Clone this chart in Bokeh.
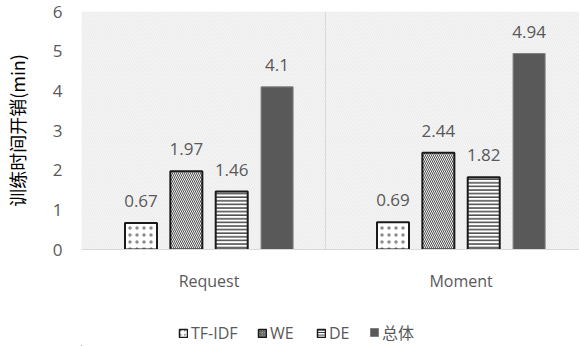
from bokeh.plotting import figure
from bokeh.layouts import column
from bokeh.models import (ColumnDataSource, Range1d, FixedTicker, BoxAnnotation, Span,
                          Legend, LegendItem, LabelSet)
from bokeh.core.properties import value
from bokeh.embed import file_html
from bokeh.resources import INLINE

# training time cost per scenario (minutes)
groups = ["Request", "Moment"]
series = ["TF-IDF", "WE", "DE", "总体"]
tfidf = [0.67, 0.69]
we = [1.97, 2.44]
de = [1.46, 1.82]
total = [4.1, 4.94]
y_ticks = [0, 1, 2, 3, 4, 5, 6]

values = [tfidf, we, de, total]
offsets = [-0.27, -0.09, 0.09, 0.27]
bar_w = 0.127

styles = [
    dict(fill_color="white", line_color="#1a1a1a", line_width=2,
         hatch_pattern="dot", hatch_color="#8c8c8c", hatch_scale=7, hatch_weight=1.2),
    dict(fill_color="#f0f0f0", line_color="#1a1a1a", line_width=2,
         hatch_pattern="left_diagonal_line", hatch_color="#505050", hatch_scale=4, hatch_weight=1),
    dict(fill_color="white", line_color="#1a1a1a", line_width=2,
         hatch_pattern="horizontal_line", hatch_color="#2a2a2a", hatch_scale=3.6, hatch_weight=1.3),
    dict(fill_color="#595959", line_color="#7f7f7f", line_width=1),
]

font = "'Open Sans', 'Noto Sans CJK SC'"
grey_text = "#595959"

p = figure(width=579, height=318, output_backend="svg", toolbar_location=None,
           x_range=Range1d(-0.506, 1.47), y_range=Range1d(0, 6),
           min_border_left=79, min_border_right=0, min_border_top=11, min_border_bottom=69)
p.outline_line_color = None
p.background_fill_color = "white"
p.border_fill_color = "white"

# light hatched plot area
p.add_layout(BoxAnnotation(fill_color="#f8f8f8", fill_alpha=1, line_color=None,
                           hatch_pattern="left_diagonal_line", hatch_color="#e3e3e3",
                           hatch_scale=4.5, hatch_weight=0.8, level="underlay"))

p.xgrid.grid_line_color = None
p.ygrid.grid_line_color = "#d9d9d9"
p.ygrid.grid_line_width = 1
p.ygrid.ticker = FixedTicker(ticks=y_ticks)

# category divider
p.add_layout(Span(location=0.5 - 0.038, dimension="height", line_color="#d9d9d9", line_width=1))

sources = []
for name, vals, off, st in zip(series, values, offsets, styles):
    src = ColumnDataSource(dict(x=[i + off for i in range(len(groups))], top=vals,
                                lab=[f"{v:g}" for v in vals]))
    sources.append(src)
    p.vbar(x="x", top="top", width=bar_w, source=src, **st)
    p.add_layout(LabelSet(x="x", y="top", text="lab", source=src, text_align="center",
                          text_baseline="bottom", y_offset=16, text_font=value("Open Sans"),
                          text_font_size="17px", text_color=grey_text))

p.yaxis.ticker = FixedTicker(ticks=y_ticks)
p.yaxis.axis_line_color = None
p.yaxis.major_tick_line_color = None
p.yaxis.minor_tick_line_color = None
p.yaxis.major_label_text_font = "Open Sans"
p.yaxis.major_label_text_font_size = "17px"
p.yaxis.major_label_text_color = grey_text
p.yaxis.major_label_standoff = 13
p.yaxis.axis_label = "训练时间开销(min)"
p.yaxis.axis_label_text_font = "Noto Sans CJK SC"
p.yaxis.axis_label_text_font_style = "normal"
p.yaxis.axis_label_text_font_size = "18px"
p.yaxis.axis_label_text_color = "#000000"
p.yaxis.axis_label_standoff = 20

p.xaxis.ticker = FixedTicker(ticks=list(range(len(groups))))
p.xaxis.major_label_overrides = {i: g for i, g in enumerate(groups)}
p.xaxis.axis_line_color = "#d9d9d9"
p.xaxis.major_tick_line_color = None
p.xaxis.minor_tick_line_color = None
p.xaxis.major_label_text_font = "Open Sans"
p.xaxis.major_label_text_font_size = "16px"
p.xaxis.major_label_text_color = grey_text
p.xaxis.major_label_standoff = 14

# legend strip underneath the chart; its renderers share the bar data but sit
# far outside the strip's visible ranges, so only the legend entries show
leg = figure(width=579, height=28, output_backend="svg", toolbar_location=None,
             x_axis_type=None, y_axis_type=None,
             x_range=Range1d(1000, 1579), y_range=Range1d(100, 128),
             min_border_left=0, min_border_right=0, min_border_top=0, min_border_bottom=0)
leg.grid.visible = False
leg.outline_line_color = None
leg.border_fill_color = "white"
leg.background_fill_color = "white"

legend_x = [97, 176, 235, 288]  # relative to the strip's frame, which aligns with the chart frame
for name, st, lx, src in zip(series, styles, legend_x, sources):
    st2 = dict(st)
    st2["line_width"] = 1.5 if st2["line_width"] > 1 else 1
    if "hatch_scale" in st2:
        st2["hatch_scale"] = max(2.5, st2["hatch_scale"] * 0.6)
    r = leg.vbar(x="x", top="top", width=1, source=src, **st2)
    leg.add_layout(Legend(items=[LegendItem(label=name, renderers=[r])], location=(lx, 2),
                          border_line_color=None, background_fill_alpha=0,
                          label_text_font=font, label_text_font_size="16px",
                          label_text_color=grey_text, glyph_width=10, glyph_height=10,
                          label_standoff=3, padding=0, margin=0, label_height=18))

open("out.html", "w").write(file_html(column(p, leg, spacing=0), INLINE))
